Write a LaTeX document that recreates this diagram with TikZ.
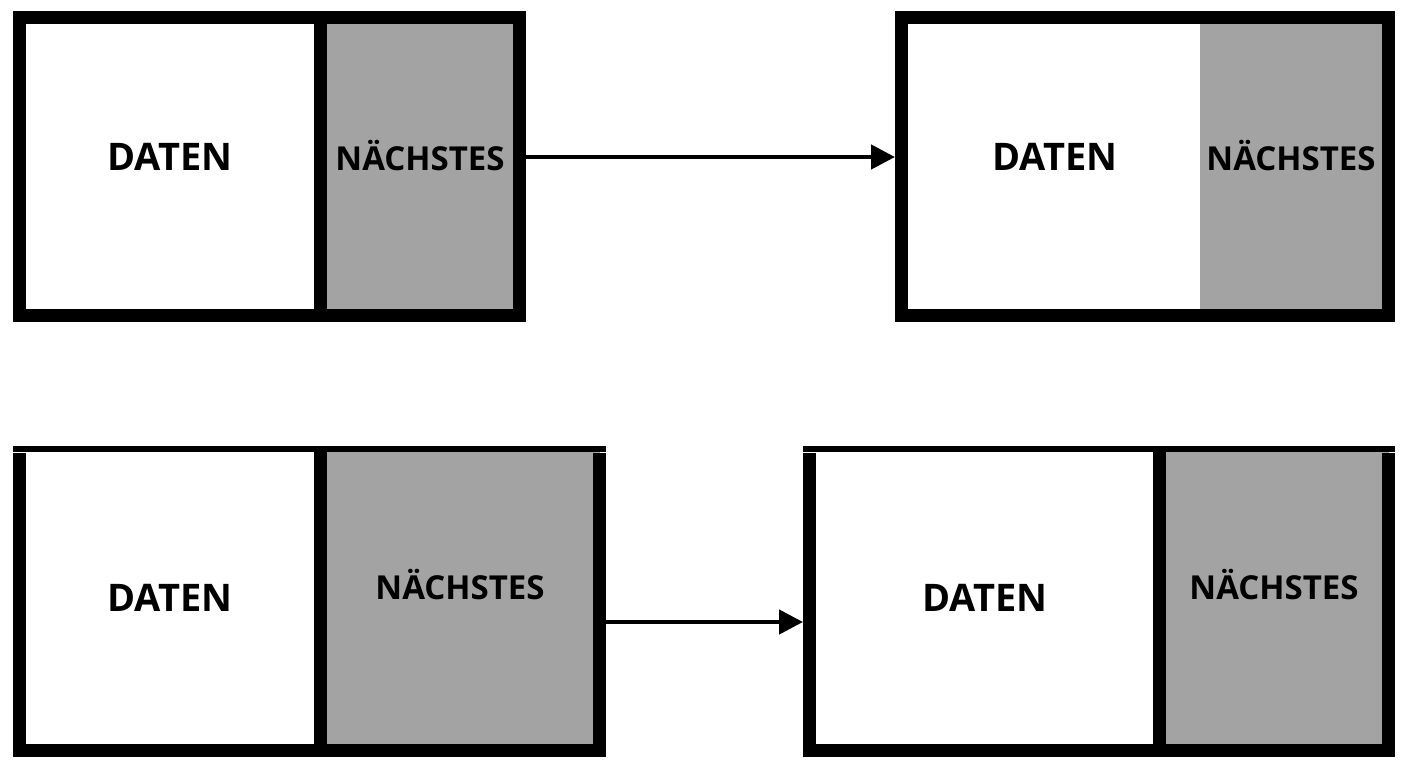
\documentclass[tikz,border=0pt]{standalone}
\usepackage{fontspec}
\setmainfont{Open Sans}
\usetikzlibrary{arrows.meta}
\begin{document}
\begin{tikzpicture}[x=1pt,y=-1pt,
 box/.style={draw=black,line width=13pt},
 gray/.style={fill=black!36},
 dat/.style={font=\bfseries\fontsize{38}{42}\selectfont},
 nx/.style={font=\bfseries\fontsize{33}{36}\selectfont},
 arr/.style={line width=4.5pt,-{Triangle[length=24pt,width=24pt]}}]
\useasboundingbox (0,0) rectangle (1408,768);
% box 1
\fill[gray] (320,17) rectangle (520,316);
\draw[box] (19.5,17.5) rectangle (519.5,315.5);
\draw[line width=13pt] (320.5,17) -- (320.5,316);
\node[dat] (d1) at (170,157) {DATEN};
\node[nx] (n1) at (420,156) {NÄCHSTES};
% box 2
\fill[gray] (1200,17) rectangle (1389,316);
\draw[box] (901.5,17.5) rectangle (1388.5,315.5);
\node[dat] (d2) at (1055,157) {DATEN};
\node[nx] (n2) at (1291,156) {NÄCHSTES};
% box 3
\fill[gray] (320,450) rectangle (600,751);
\fill[black] (13,446) rectangle (606,452);
\draw[box] (19.5,452.5) -- (19.5,750.5) -- (599.5,750.5) -- (599.5,452.5);
\draw[line width=13pt] (320.5,450) -- (320.5,751);
\node[dat] (d3) at (170,598) {DATEN};
\node[nx] (n3) at (460,585) {NÄCHSTES};
% box 4
\fill[gray] (1160,450) rectangle (1389,751);
\fill[black] (803,446) rectangle (1395,452);
\draw[box] (809.5,452.5) -- (809.5,750.5) -- (1388.5,750.5) -- (1388.5,452.5);
\draw[line width=13pt] (1159.5,450) -- (1159.5,751);
\node[dat] (d4) at (985,598) {DATEN};
\node[nx] (n4) at (1274,585) {NÄCHSTES};
% arrows
\coordinate (a1) at (526,157); \coordinate (b1) at (895,157);
\coordinate (a2) at (606,622); \coordinate (b2) at (803,622);
\draw[arr] (a1) -- (b1);
\draw[arr] (a2) -- (b2);
\end{tikzpicture}
\end{document}
